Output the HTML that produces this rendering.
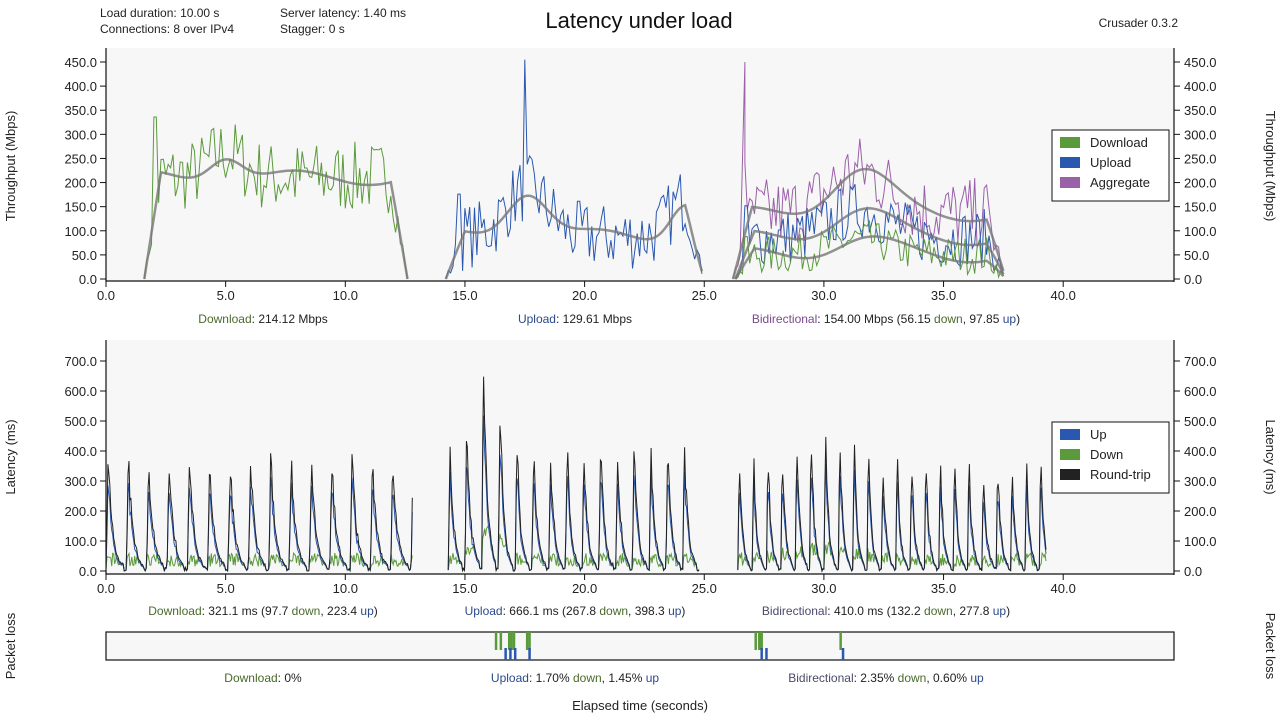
<!DOCTYPE html>
<html><head><meta charset="utf-8"><style>
html,body{margin:0;padding:0;background:#fff;width:1280px;height:720px;overflow:hidden}
svg{font-family:"Liberation Sans","DejaVu Sans",sans-serif}
</style></head><body>
<svg id="s" width="1280" height="720" xmlns="http://www.w3.org/2000/svg">
<rect width="1280" height="720" fill="#fff"/>
<text x="100" y="17" font-size="12" fill="#222">Load duration: 10.00 s</text>
<text x="100" y="33" font-size="12" fill="#222">Connections: 8 over IPv4</text>
<text x="280" y="17" font-size="12" fill="#222">Server latency: 1.40 ms</text>
<text x="280" y="33" font-size="12" fill="#222">Stagger: 0 s</text>
<text x="639" y="28" font-size="22" fill="#111" text-anchor="middle">Latency under load</text>
<text x="1178" y="27" font-size="12" fill="#222" text-anchor="end">Crusader 0.3.2</text>
<rect x="106" y="48" width="1068" height="233" fill="#f7f7f7"/>
<rect x="106" y="340" width="1068" height="234" fill="#f7f7f7"/>
<rect x="106" y="632" width="1068" height="28" fill="#f7f7f7" stroke="#111" stroke-width="1.2"/>
<g id="g"></g>
<text transform="translate(15,166) rotate(-90)" font-size="13" fill="#222" text-anchor="middle">Throughput (Mbps)</text>
<text transform="translate(1266,166) rotate(90)" font-size="13" fill="#222" text-anchor="middle">Throughput (Mbps)</text>
<text transform="translate(15,457) rotate(-90)" font-size="13" fill="#222" text-anchor="middle">Latency (ms)</text>
<text transform="translate(1266,457) rotate(90)" font-size="13" fill="#222" text-anchor="middle">Latency (ms)</text>
<text transform="translate(15,646) rotate(-90)" font-size="13" fill="#222" text-anchor="middle">Packet loss</text>
<text transform="translate(1266,646) rotate(90)" font-size="13" fill="#222" text-anchor="middle">Packet loss</text>
<g font-size="12" text-anchor="middle" fill="#222">
<text x="263" y="323"><tspan fill="#4a6a2a">Download</tspan>: 214.12 Mbps</text>
<text x="575" y="323"><tspan fill="#2a4a8a">Upload</tspan>: 129.61 Mbps</text>
<text x="886" y="323"><tspan fill="#7a4a8a">Bidirectional</tspan>: 154.00 Mbps (56.15 <tspan fill="#4a6a2a">down</tspan>, 97.85 <tspan fill="#2a4a8a">up</tspan>)</text>
<text x="263" y="615"><tspan fill="#4a6a2a">Download</tspan>: 321.1 ms (97.7 <tspan fill="#4a6a2a">down</tspan>, 223.4 <tspan fill="#2a4a8a">up</tspan>)</text>
<text x="575" y="615"><tspan fill="#2a4a8a">Upload</tspan>: 666.1 ms (267.8 <tspan fill="#4a6a2a">down</tspan>, 398.3 <tspan fill="#2a4a8a">up</tspan>)</text>
<text x="886" y="615"><tspan fill="#4a4a6a">Bidirectional</tspan>: 410.0 ms (132.2 <tspan fill="#4a6a2a">down</tspan>, 277.8 <tspan fill="#2a4a8a">up</tspan>)</text>
<text x="263" y="682"><tspan fill="#4a6a2a">Download</tspan>: 0%</text>
<text x="575" y="682"><tspan fill="#2a4a8a">Upload</tspan>: 1.70% <tspan fill="#4a6a2a">down</tspan>, 1.45% <tspan fill="#2a4a8a">up</tspan></text>
<text x="886" y="682"><tspan fill="#4a4a6a">Bidirectional</tspan>: 2.35% <tspan fill="#4a6a2a">down</tspan>, 0.60% <tspan fill="#2a4a8a">up</tspan></text>
<text x="640" y="710" font-size="13">Elapsed time (seconds)</text>
</g>
<g font-size="13" fill="#222">
<rect x="1052" y="130" width="117" height="71" fill="#fff" stroke="#111"/>
<rect x="1060" y="137" width="20" height="11" fill="#5a9a3a"/><text x="1090" y="147">Download</text>
<rect x="1060" y="157" width="20" height="11" fill="#2a58b0"/><text x="1090" y="167">Upload</text>
<rect x="1060" y="177" width="20" height="11" fill="#9a60a8"/><text x="1090" y="187">Aggregate</text>
<rect x="1052" y="422" width="117" height="71" fill="#fff" stroke="#111"/>
<rect x="1060" y="429" width="20" height="11" fill="#2a58b0"/><text x="1090" y="439">Up</text>
<rect x="1060" y="449" width="20" height="11" fill="#5a9a3a"/><text x="1090" y="459">Down</text>
<rect x="1060" y="469" width="20" height="11" fill="#222"/><text x="1090" y="479">Round-trip</text>
</g>
</svg>
<script>
var g=document.getElementById('g'),NS='http://www.w3.org/2000/svg';
function el(t,a){var e=document.createElementNS(NS,t);for(var k in a)e.setAttribute(k,a[k]);g.appendChild(e);return e}
var seed=7;function r(){seed=(seed*16807)%2147483647;return seed/2147483647}
function X(t){return 106+t*23.93}
function Y1(v){return 279-v*0.4822}
function Y2(v){return 571-v*0.3}
function axes(y0,y1,zeroY,step,px,n){
 el('line',{x1:106,y1:y0,x2:106,y2:y1+1,stroke:'#111','stroke-width':1.2});
 el('line',{x1:1174,y1:y0,x2:1174,y2:y1+1,stroke:'#111','stroke-width':1.2});
 el('line',{x1:106,y1:y1,x2:1174,y2:y1,stroke:'#111','stroke-width':1.2});
 for(var i=0;i<=n;i++){var y=zeroY-i*step*px;
  el('line',{x1:100,y1:y,x2:106,y2:y,stroke:'#111'});el('line',{x1:1174,y1:y,x2:1180,y2:y,stroke:'#111'});
  var t=el('text',{x:97,y:y+5,'font-size':13,'text-anchor':'end',fill:'#222'});t.textContent=(i*step).toFixed(1);
  t=el('text',{x:1184,y:y+5,'font-size':13,fill:'#222'});t.textContent=(i*step).toFixed(1);}
 for(var s=0;s<=40;s+=5){var x=X(s);el('line',{x1:x,y1:y1,x2:x,y2:y1+6,stroke:'#111'});
  t=el('text',{x:x,y:y1+19,'font-size':13,'text-anchor':'middle',fill:'#222'});t.textContent=s.toFixed(1);}
}
axes(48,281,279,50,0.4822,9);
axes(340,574,571,100,0.3,7);
function line(pts,c,w,o){el('polyline',{points:pts.map(function(p){return p[0].toFixed(1)+','+p[1].toFixed(1)}).join(' '),fill:'none',stroke:c,'stroke-width':w||1,opacity:o||1})}
function series(a,b,base,amp,rise,hump){var p=[],q=[];for(var t=a;t<=b;t+=0.1){var e=Math.min(1,(t-a)/rise,(b-t)/rise);e=Math.max(0,e);var h=hump?hump(t):1;var v=(base*h+(r()-0.5)*amp)*e;if(t-a<0.6&&t-a>0.4)v=base*1.6;p.push([X(t),Y1(Math.max(0,v))]);q.push([X(t),Y1(base*h*e+Math.sin(t)*15*e)]);}return [p,q]}
var d=series(1.6,12.6,210,150,0.7,function(t){return 1+0.25*Math.exp(-Math.pow(t-5,2))});
var u=series(14.2,25.0,110,140,0.8,function(t){return 0.8+0.9*Math.exp(-Math.pow(t-17.6,2)/1.5)+0.7*Math.exp(-Math.pow(t-24.2,2)/0.8)});
u[0][33]=[X(17.5),Y1(455)];
line(d[0],'#5a9a3a',1);line(u[0],'#2a58b0',1);
var hb=function(t){return 0.9+0.6*Math.exp(-Math.pow(t-31.5,2)/3)};
var bd=series(26.3,37.6,55,80,0.8,hb),bu=series(26.3,37.6,95,120,0.8,hb),ba=series(26.2,37.6,150,150,0.8,hb);
ba[0][4]=[X(26.7),Y1(450)];
line(ba[0],'#9a60a8',1);line(bu[0],'#2a58b0',1);line(bd[0],'#5a9a3a',1);
[d,u,bd,bu,ba].forEach(function(s){line(s[1],'#777',2.5,0.8)});
function lat(a,b,per,peak,env){var rt=[],up=[],dn=[];for(var t=a;t<=b;t+=0.04){var ph=((t-a)%per)/per;var pk=peak*(env?env(t):1);var v=ph<0.1?pk*(ph/0.1):pk*Math.exp(-(ph-0.1)*4.5);v=v*(0.85+0.25*r())+r()*10;if(ph>0.85)v=r()*12;
 rt.push([X(t),Y2(v)]);up.push([X(t),Y2(v*0.8)]);dn.push([X(t),Y2(Math.min(v,15+r()*45*(ph<0.6?1:0.4)+ (env?(env(t)-1)*150:0)))]);}
 line(dn,'#5a9a3a',1);line(up,'#2a58b0',1);line(rt,'#222',1);}
lat(0,12.8,0.85,380);
lat(14.3,24.8,0.7,430,function(t){return 1+0.7*Math.exp(-Math.pow(t-16,2)/0.5)});
lat(26.4,39.3,0.6,380,function(t){return 1+0.25*Math.exp(-Math.pow(t-30,2)/4)});
[16.3,16.5,16.85,16.95,17.05,17.6,17.7,27.15,27.3,27.4,30.7].forEach(function(t){el('line',{x1:X(t),y1:632,x2:X(t),y2:650,stroke:'#5a9a3a','stroke-width':2.5})});
[16.7,16.9,17.1,17.7,27.4,27.6,30.8].forEach(function(t){el('line',{x1:X(t),y1:648,x2:X(t),y2:660,stroke:'#2a58b0','stroke-width':2.5})});
</script>
</body></html>
